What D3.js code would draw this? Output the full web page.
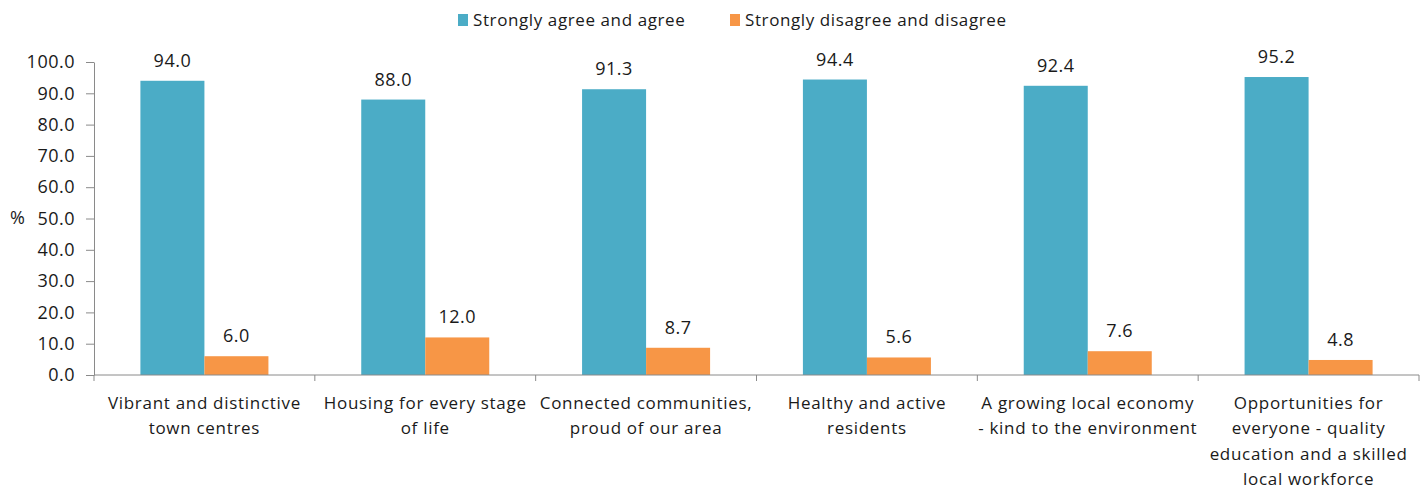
<!DOCTYPE html>
<html><head><meta charset="utf-8">
<script src="https://cdn.jsdelivr.net/npm/d3@7"></script>
<style>body{margin:0;background:#fff}svg{display:block}text{font-family:"Open Sans",sans-serif;fill:#1a1a1a}</style>
</head><body><svg id="c" width="1428" height="490"></svg>
<script>
const categories = [
  ["Vibrant and distinctive","town centres"],
  ["Housing for every stage","of life"],
  ["Connected communities,","proud of our area"],
  ["Healthy and active","residents"],
  ["A growing local economy","- kind to the environment"],
  ["Opportunities for","everyone - quality","education and a skilled","local workforce"]
];
const seriesNames = ["Strongly agree and agree","Strongly disagree and disagree"];
const agree = [94.0, 88.0, 91.3, 94.4, 92.4, 95.2];
const disagree = [6.0, 12.0, 8.7, 5.6, 7.6, 4.8];
const yTicks = [0,10,20,30,40,50,60,70,80,90,100];
const colors = ["#4BACC6","#F79646"];

const svg = d3.select("#c");
const m = {l:94, r:9, t:62, b:114};
const W = 1428, H = 490;
const x0 = d3.scaleBand().domain(d3.range(categories.length)).range([m.l, W-m.r]).paddingInner(0).paddingOuter(0);
const x1 = d3.scaleBand().domain([0,1]).range([0, x0.bandwidth()]).paddingOuter(0.725).paddingInner(0);
const y = d3.scaleLinear().domain([0,100]).range([H-m.b-1, m.t]);

const series = [agree, disagree];
const g = svg.append("g");
series.forEach((vals, si) => {
  g.selectAll(".b"+si).data(vals).join("rect")
    .attr("x", (d,i)=>x0(i)+x1(si))
    .attr("y", d=>y(d))
    .attr("width", x1.bandwidth())
    .attr("height", d=>y(0)-y(d))
    .attr("fill", colors[si]);
  g.selectAll(".l"+si).data(vals).join("text")
    .attr("x", (d,i)=>x0(i)+x1(si)+x1.bandwidth()/2)
    .attr("y", d=>y(d)-14)
    .attr("text-anchor","middle")
    .attr("font-size","18px")
    .attr("letter-spacing","0.5px")
    .text(d=>d.toFixed(1));
});

// y axis
const ya = svg.append("g").attr("transform",`translate(${m.l},0)`)
  .call(d3.axisLeft(y).tickValues(yTicks).tickSize(8).tickSizeOuter(0).tickFormat(d=>d.toFixed(1)));
ya.select(".domain").attr("stroke","#8a8a8a");
ya.selectAll(".tick line").attr("stroke","#8a8a8a");
ya.selectAll(".tick text").attr("font-size","18px").attr("letter-spacing","0.5px").attr("fill","#1a1a1a").attr("x",-19).attr("font-family",'"Open Sans",sans-serif');

// x axis
const xa = svg.append("g").attr("transform",`translate(0,${y(0)})`);
xa.append("line").attr("x1",m.l).attr("x2",W-m.r).attr("stroke","#8a8a8a");
const bounds = d3.range(categories.length+1).map(i => i<categories.length ? x0(i) : x0(i-1)+x0.bandwidth());
xa.selectAll(".xt").data(bounds).join("line")
  .attr("x1",d=>d).attr("x2",d=>d).attr("y1",0).attr("y2",6).attr("stroke","#8a8a8a");
categories.forEach((lines,i)=>{
  const t = xa.append("text").attr("text-anchor","middle").attr("font-size","17px").attr("letter-spacing","0.7px")
    .attr("x", x0(i)+x0.bandwidth()/2).attr("y", 34);
  lines.forEach((ln,k)=> t.append("tspan").attr("x", x0(i)+x0.bandwidth()/2).attr("dy", k===0?0:"25.3px").text(ln));
});

svg.append("text").attr("x",10).attr("y",224).attr("font-size","18px").text("%");

// legend
const leg = svg.append("g");
const legX = [458, 730];
seriesNames.forEach((n,i)=>{
  leg.append("rect").attr("x",legX[i]).attr("y",14).attr("width",10).attr("height",12).attr("fill",colors[i]);
  leg.append("text").attr("x",legX[i]+15).attr("y",26).attr("font-size","17px").attr("letter-spacing","0.6px").text(n);
});
</script></body></html>
